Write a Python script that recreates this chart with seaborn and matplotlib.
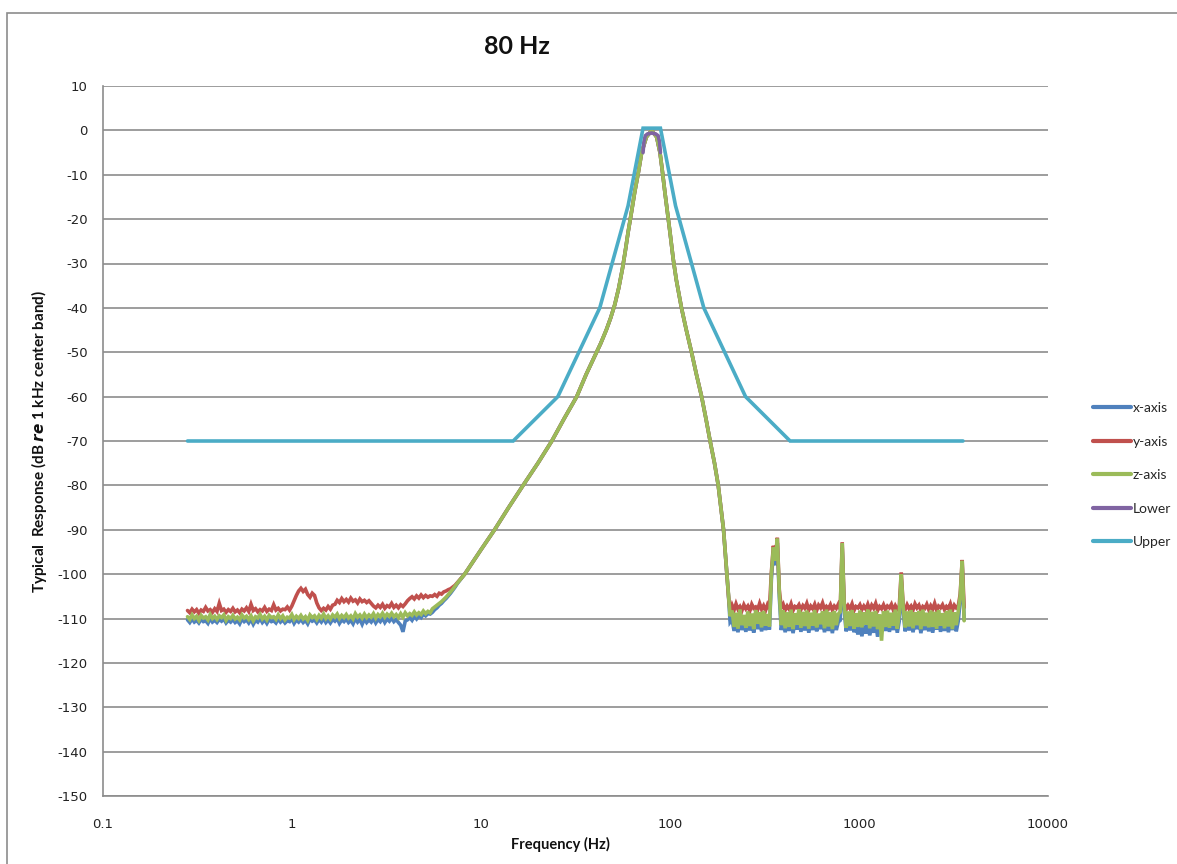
import numpy as np
import pandas as pd
import matplotlib
matplotlib.use("Agg")
import matplotlib.pyplot as plt
from matplotlib.lines import Line2D
from matplotlib.patches import Rectangle
import seaborn as sns

# ---------------- data ----------------
series_names = ["x-axis", "y-axis", "z-axis", "Lower", "Upper"]
series_colors = ["#4F81BD", "#C0504D", "#9BBB59", "#8064A2", "#4BACC6"]

# low-frequency noise floor, sampled 0.28 .. 7.5 Hz (120 samples)
left_f_range = (0.28, 7.5)
x_left = [-110.3, -110.9, -110.1, -110.8, -110.4, -111.0, -110.2, -110.7, -110.5, -111.1,
          -110.0, -110.8, -110.4, -110.9, -110.2, -110.6, -110.1, -111.0, -110.4, -110.8,
          -110.2, -110.9, -110.5, -111.2, -110.1, -110.7, -110.3, -111.0, -110.2, -111.3,
          -110.4, -110.8, -110.0, -110.9, -110.3, -111.1, -110.2, -110.7, -110.5, -111.0,
          -110.1, -110.8, -110.3, -111.0, -110.5, -110.7, -110.0, -111.1, -110.3, -110.8,
          -110.2, -110.9, -110.4, -111.2, -110.1, -110.6, -110.3, -111.0, -110.2, -110.8,
          -110.0, -110.9, -110.3, -111.0, -110.2, -110.6, -110.0, -111.1, -110.3, -110.7,
          -110.1, -110.9, -110.4, -111.2, -110.0, -110.8, -110.2, -111.3, -110.1, -110.9,
          -110.3, -110.8, -110.0, -111.0, -110.2, -110.7, -109.9, -110.9, -110.1, -110.6,
          -109.9, -110.7, -110.2, -110.9, -111.5, -113.0, -110.6, -110.3, -109.8, -110.4,
          -109.5, -110.1, -109.4, -109.8, -109.0, -109.4, -108.9, -109.0,
          -108.6, -108.0, -107.6, -107.0, -106.6, -106.0, -105.5, -104.9, -104.3, -103.6, -102.9, -102.1]
y_left = [-108.2, -108.7, -107.9, -108.5, -108.0, -108.8, -108.1, -108.4, -107.5, -108.3,
          -108.0, -108.6, -107.8, -108.4, -106.6, -108.2, -107.9, -108.6, -108.0, -108.4,
          -107.7, -108.5, -108.1, -108.7, -107.9, -108.3, -107.6, -108.4, -106.8, -108.2,
          -107.8, -108.5, -108.0, -108.3, -107.5, -108.4, -107.9, -108.2, -106.9, -108.1,
          -107.7, -108.3, -107.9, -108.0, -107.4, -108.1, -107.2, -106.0, -104.8, -103.8,
          -103.2, -103.9, -103.4, -104.6, -105.2, -104.3, -104.8, -106.5, -107.6, -108.2,
          -107.7, -108.1, -107.3, -107.9, -107.0, -106.8, -105.9, -106.4, -105.5, -106.2,
          -105.7, -106.3, -105.4, -106.1, -105.8, -106.5, -105.6, -106.2, -105.9, -106.4,
          -106.0, -106.6, -107.2, -107.6, -107.0, -107.5, -106.8, -107.7, -107.1, -107.4,
          -106.6, -107.5, -107.0, -107.6, -106.9, -107.3, -106.7, -106.0, -105.5, -105.1,
          -105.6, -104.9, -105.4, -104.7, -105.3, -104.8, -105.2, -104.9,
          -105.0, -104.6, -105.0, -104.3, -104.5, -104.0, -103.8, -103.5, -103.3, -102.9, -102.5, -101.9]
z_left = [-109.6, -110.2, -109.2, -110.0, -109.5, -110.4, -109.3, -109.9, -109.6, -110.3,
          -109.1, -110.0, -109.5, -110.2, -109.4, -109.8, -109.2, -110.4, -109.6, -110.0,
          -109.3, -110.1, -109.7, -110.3, -109.2, -109.9, -109.5, -110.2, -109.4, -110.5,
          -109.6, -109.9, -109.1, -110.1, -109.5, -110.3, -109.3, -109.8, -109.6, -110.2,
          -109.2, -110.0, -109.4, -110.3, -109.7, -109.9, -109.1, -110.2, -109.5, -110.0,
          -109.3, -110.1, -109.6, -110.4, -109.2, -109.8, -109.4, -110.2, -109.3, -109.9,
          -109.0, -110.0, -109.4, -110.1, -109.2, -109.7, -109.0, -110.0, -109.3, -109.8,
          -109.1, -109.9, -109.4, -110.1, -108.9, -109.7, -109.2, -109.9, -109.0, -109.8,
          -109.2, -109.7, -108.9, -109.9, -109.1, -109.6, -108.8, -109.7, -109.0, -109.5,
          -108.8, -109.6, -109.1, -109.8, -108.9, -109.7, -108.7, -109.4, -108.9, -109.3,
          -108.5, -109.2, -108.7, -109.1, -108.3, -108.9, -108.4, -108.7,
          -107.8, -107.4, -107.0, -106.6, -106.2, -105.7, -105.2, -104.6, -104.0, -103.4, -102.7, -102.0]

# shared band-pass response (all three axes overlap here)
curve_f = [8.2, 10, 11.8, 14, 16.7, 20, 23.7, 27.5, 32.1, 36, 40.9, 43, 46, 48.5, 51, 53.5,
           56, 58, 60, 62.5, 65, 68, 70.8, 75, 80, 85, 88.5, 91, 94, 100, 104, 108, 115,
           122, 130, 138, 147, 155, 163, 172, 180, 186, 192, 196, 200, 204]
curve_db = [-100, -94.5, -90, -85, -80, -75, -70, -65, -60, -55, -50, -48, -45, -42.3, -39.3,
            -35.6, -31.2, -27.2, -23, -18.5, -14, -9.5, -5, -1.5, 0, -1.5, -5, -9, -14, -23,
            -29, -33.7, -40, -45, -50, -55, -60, -65, -70, -75, -80, -85, -90, -95, -100, -105]

# high-frequency noise floor, sampled 208 .. 3600 Hz (120 samples)
right_f_range = (208, 3600)
x_right = [-110.8, -110.2, -112.8, -110.5, -113.1, -110.1, -112.6, -110.7, -113.0, -110.3,
           -112.7, -110.6, -113.2, -110.0, -112.4, -110.4, -112.9, -110.2, -112.6, -110.8,
           -112.5, -101.0, -95.0, -98.0, -93.0, -105.0, -112.6, -110.3, -113.1, -110.5,
           -112.8, -110.1, -113.3, -110.6, -112.5, -110.0, -113.0, -110.4, -112.7, -110.2,
           -113.2, -110.6, -112.6, -110.1, -112.9, -110.7, -112.4, -110.3, -113.1, -110.0,
           -112.8, -110.5, -113.3, -110.2, -112.6, -110.8, -110.4, -94.0, -108.0, -112.9,
           -110.3, -112.7, -110.0, -113.1, -111.5, -113.6, -111.2, -114.0, -111.6, -113.4,
           -111.0, -113.8, -111.4, -113.2, -110.9, -114.1, -111.3, -113.0, -110.6, -112.8,
           -110.2, -113.0, -110.5, -112.6, -110.1, -113.2, -110.6, -101.0, -108.5, -112.9,
           -110.3, -112.7, -110.0, -113.1, -110.5, -112.4, -110.2, -113.3, -110.7, -112.6,
           -110.4, -112.9, -110.1, -113.2, -110.6, -112.5, -110.0, -113.0, -110.4, -112.8,
           -110.2, -113.1, -110.5, -112.6, -110.1, -112.9, -110.6, -106.0, -98.0, -110.3]
y_right = [-108.4, -107.0, -108.1, -106.7, -107.9, -107.3, -108.2, -106.9, -107.8, -107.2,
           -108.3, -106.8, -107.7, -107.4, -108.0, -106.6, -107.9, -107.1, -108.2, -106.9,
           -107.8, -99.5, -93.6, -96.5, -91.8, -103.5, -107.6, -106.8, -108.1, -107.2,
           -107.9, -106.7, -108.2, -107.3, -107.6, -106.9, -108.0, -107.1, -107.7, -106.6,
           -108.1, -107.2, -107.8, -106.8, -108.2, -107.0, -107.6, -106.5, -108.0, -107.3,
           -107.8, -106.9, -108.1, -107.2, -107.7, -106.8, -107.9, -92.8, -106.5, -108.0,
           -107.1, -107.8, -106.7, -108.2, -107.3, -107.6, -106.9, -108.0, -107.2, -107.9,
           -106.8, -108.1, -107.0, -107.7, -106.6, -108.2, -107.3, -107.8, -106.9, -108.0,
           -107.2, -107.6, -106.8, -108.1, -107.1, -107.9, -107.4, -99.6, -107.0, -108.0,
           -106.9, -107.8, -107.2, -108.1, -106.7, -107.6, -107.0, -108.2, -107.3, -107.7,
           -106.8, -108.0, -107.1, -107.9, -106.6, -108.1, -107.2, -107.6, -106.9, -108.0,
           -107.3, -107.8, -106.7, -108.2, -107.0, -107.6, -107.2, -104.5, -96.8, -107.5]
z_right = [-109.5, -108.2, -111.9, -108.7, -112.3, -108.0, -111.5, -109.2, -112.1, -108.4,
           -111.7, -108.9, -112.4, -108.1, -111.2, -108.6, -112.0, -108.3, -111.6, -109.0,
           -111.8, -100.0, -94.0, -97.0, -92.0, -104.0, -111.5, -108.2, -112.2, -108.6,
           -111.9, -108.0, -112.4, -108.8, -111.4, -107.9, -112.1, -108.5, -111.7, -108.2,
           -112.3, -108.7, -111.6, -108.1, -112.0, -108.9, -111.3, -108.4, -112.2, -108.0,
           -111.8, -108.6, -112.4, -108.3, -111.5, -109.0, -108.5, -93.0, -107.0, -112.1,
           -108.4, -111.7, -108.1, -112.3, -108.8, -111.9, -108.2, -112.0, -108.6, -111.4,
           -108.0, -112.2, -108.5, -111.8, -108.3, -112.4, -109.1, -115.0, -108.4, -111.9,
           -108.2, -112.1, -108.7, -111.6, -108.0, -112.3, -109.0, -100.0, -107.5, -112.0,
           -108.4, -111.8, -108.1, -112.2, -108.6, -111.5, -108.3, -112.4, -108.0, -111.7,
           -108.7, -112.0, -108.2, -111.9, -108.5, -112.3, -108.1, -111.6, -108.8, -112.2,
           -108.3, -111.8, -108.0, -112.4, -108.6, -111.5, -108.4, -105.0, -97.0, -110.5]

# filter masks
lower_f = [72, 72.8, 74, 76, 80, 84, 86.5, 88, 89]
lower_db = [-5, -2.5, -1.2, -0.8, -0.6, -0.8, -1.2, -2.5, -5]
upper_f = [0.28, 14.8, 25.5, 42.5, 60, 72, 89, 107, 151, 251, 432, 3550]
upper_db = [-70, -70, -60, -40, -17, 0.5, 0.5, -17, -40, -60, -70, -70]

x_ticks = [0.1, 1, 10, 100, 1000, 10000]
x_tick_labels = ["0.1", "1", "10", "100", "1000", "10000"]
y_ticks = list(range(-150, 11, 10))

# ---------------- build long table ----------------
f_left = np.geomspace(*left_f_range, len(z_left))
f_right = np.geomspace(*right_f_range, len(z_right))

rows = []
def add(name, fs, vals):
    for i, (f, v) in enumerate(zip(fs, vals)):
        rows.append((name, i, f, v))

for name, lv, rv in [("x-axis", x_left, x_right), ("y-axis", y_left, y_right),
                     ("z-axis", z_left, z_right)]:
    fs = list(f_left) + curve_f + list(f_right)
    vs = lv + curve_db + rv
    add(name, fs, vs)
add("Lower", lower_f, lower_db)
add("Upper", upper_f, upper_db)
df = pd.DataFrame(rows, columns=["series", "idx", "freq", "db"])

# ---------------- plot ----------------
sns.set_theme(style="white")
plt.rcParams["font.family"] = ["Lato", "DejaVu Sans"]
plt.rcParams["axes.unicode_minus"] = False

fig = plt.figure(figsize=(11.77, 8.64), dpi=100)
ax = fig.add_axes([103 / 1177, 1 - 796 / 864, (1048 - 103) / 1177, (796 - 86) / 864])

sns.lineplot(data=df, x="freq", y="db", hue="series", hue_order=series_names,
             palette=series_colors, estimator=None, sort=False, units="series",
             linewidth=2.6, legend=False, ax=ax)
for ln in ax.get_lines():
    ln.set_solid_joinstyle("miter")

ax.set_xscale("log")
ax.set_xlim(0.1, 10000)
ax.set_ylim(-150, 10)
ax.set_xticks(x_ticks)
ax.set_xticklabels(x_tick_labels)
ax.minorticks_off()
ax.set_yticks(y_ticks)
ax.set_yticklabels([str(t) for t in y_ticks])

grid_c = "#8C8C8C"
ax.yaxis.grid(True, color=grid_c, linewidth=1.2)
ax.xaxis.grid(False)
ax.set_axisbelow(True)
for s in ["top", "right"]:
    ax.spines[s].set_visible(False)
for s in ["left", "bottom"]:
    ax.spines[s].set_color(grid_c)
    ax.spines[s].set_linewidth(1.2)
ax.tick_params(axis="both", which="major", length=5, width=1.2, color=grid_c,
               labelsize=10, labelcolor="#222222", direction="out")
ax.tick_params(axis="x", pad=11)
ax.tick_params(axis="y", pad=6)
for lab in ax.get_xticklabels() + ax.get_yticklabels():
    lab.set_family(["DejaVu Sans"])
    lab.set_fontsize(9.5)

ax.set_xlabel("Frequency (Hz)", fontsize=10.5, fontweight="bold", color="#111111")
ax.xaxis.set_label_coords((560 - 103) / (1048 - 103), -0.058)
ax.set_ylabel(r"Typical  Response (dB $\mathbfit{re}$ 1 kHz center band)", fontsize=11,
              fontweight="bold", color="#111111")
ax.yaxis.set_label_coords(-(103 - 49) / (1048 - 103), 0.5)

fig.text(517 / 1177, 1 - 47 / 864, "80 Hz", fontsize=18, fontweight="bold",
         ha="center", va="center", color="#111111")

# chart frame
fig.patches.append(Rectangle((7 / 1177, -0.05), 1.1, 1 - 13 / 864 + 0.05,
                             transform=fig.transFigure, fill=False,
                             edgecolor="#8C8C8C", linewidth=1.2))

handles = [Line2D([], [], color=c, linewidth=3) for c in series_colors]
fig.legend(handles, series_names, loc="upper left",
           bbox_to_anchor=(1093 / 1177, 1 - 402 / 864), frameon=False,
           fontsize=10, handlelength=2.7, handletextpad=0.15, labelspacing=1.55,
           borderpad=0, borderaxespad=0)

fig.savefig("out.png", dpi=100)
